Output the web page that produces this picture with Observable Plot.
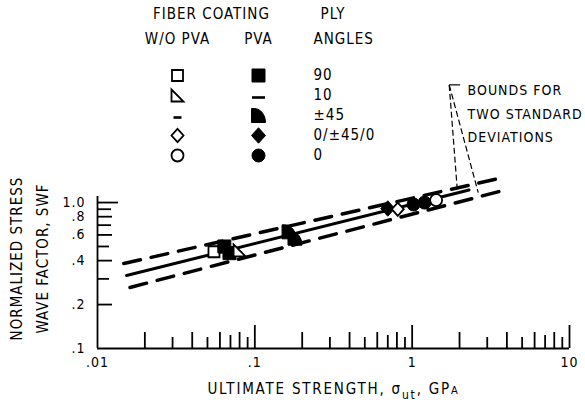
<!DOCTYPE html>
<html>
<head>
<meta charset="utf-8">
<script src="https://cdn.jsdelivr.net/npm/d3@7"></script>
<script src="https://cdn.jsdelivr.net/npm/@observablehq/plot@0.6"></script>
<style>
  html, body { margin: 0; padding: 0; background: #fff; }
  #chart { position: relative; width: 585px; height: 408px; }
  #chart svg { position: absolute; left: 0; top: 0; }
</style>
</head>
<body>
<div id="chart"></div>
<script>
// ---- Categories ----
const plyAngles = ["90", "10", "±45", "0/±45/0", "0"];
const coatings = ["W/O PVA", "PVA"];

// ---- Specimen results: ultimate strength (GPa) vs normalized SWF ----
const pointSigma   = [0.055, 0.064, 0.069, 0.080, 0.165, 0.18, 0.81, 0.70, 1.02, 1.2, 1.42];
const pointSWF     = [0.46, 0.50, 0.45, 0.47, 0.63, 0.57, 0.90, 0.91, 0.97, 1.0, 1.04];
const pointAngle   = ["90", "90", "90", "10", "±45", "±45", "0/±45/0", "0/±45/0", "0", "0", "0"];
const pointCoating = ["W/O PVA", "PVA", "PVA", "W/O PVA", "PVA", "PVA", "W/O PVA", "PVA", "PVA", "PVA", "W/O PVA"];

// ---- Regression line and two-standard-deviation bounds (end points) ----
const fitSigma   = [0.0153, 2.3];
const fitSWF     = [0.316, 1.22];
const upperSigma = [0.0147, 3.74];
const upperSWF   = [0.382, 1.48];
const lowerSigma = [0.0161, 3.8];
const lowerSWF   = [0.262, 1.21];

// ---- Callout for the bounds ----
const noteLines = ["BOUNDS FOR", "TWO STANDARD", "DEVIATIONS"];
const noteSigma = 2.25, noteSWF = 6.4;
const leaderFromSigma = 1.72, leaderFromSWF = 6.4;
const leaderToSigma = [1.93, 2.63];
const leaderToSWF   = [1.27, 1.17];
const stubToSigma = 2.02;

// ---- Axes ----
const xTickValues = [0.01, 0.1, 1, 10];
const xTickLabels = [".01", ".1", "1", "10"];
const yTickValues = [0.1, 0.2, 0.4, 0.6, 0.8, 1.0];
const yTickLabels = [".1", ".2", ".4", ".6", ".8", "1.0"];
const xTitle = "ULTIMATE STRENGTH, σut, GPA";
const yTitle1 = "NORMALIZED STRESS";
const yTitle2 = "WAVE FACTOR, SWF";

// ---- Custom marker shapes (size = π r²) ----
const half = s => Math.sqrt(s / Math.PI);
const shapes = {
  square: {draw(c, s) { const h = half(s); c.moveTo(-h, -h); c.lineTo(h, -h); c.lineTo(h, h); c.lineTo(-h, h); c.closePath(); }},
  triangle: {draw(c, s) { const h = half(s); c.moveTo(-h, -h); c.lineTo(-h, h); c.lineTo(h, h); c.closePath(); }},
  dash: {draw(c, s) { const h = half(s); c.moveTo(-h, 0); c.lineTo(h, 0); }},
  quarter: {draw(c, s) {
    const h = half(s);
    c.moveTo(-h, h); c.lineTo(-h, -h); c.lineTo(-0.6 * h, -h);
    c.bezierCurveTo(0.284 * h, -h, h, -0.105 * h, h, h); c.closePath();
  }},
  diamond: {draw(c, s) { const h = half(s); c.moveTo(0, -1.1 * h); c.lineTo(h, 0); c.lineTo(0, 1.1 * h); c.lineTo(-h, 0); c.closePath(); }},
  circle: {draw(c, s) { const h = half(s); c.moveTo(h, 0); c.arc(0, 0, h, 0, 2 * Math.PI); }}
};

function markerStyle(angle, coating) {
  const open = coating === "W/O PVA";
  const openStyle = {fill: "white", stroke: "black", strokeWidth: 1.8};
  const solid = {fill: "black", stroke: "black", strokeWidth: 1};
  const line = {fill: "none", stroke: "black", strokeWidth: 2.6, dy: 2};
  switch (angle) {
    case "90": return open ? {symbol: shapes.square, r: 5.5, ...openStyle} : {symbol: shapes.square, r: 6.5, ...solid};
    case "10": return open ? {symbol: shapes.triangle, r: 6, ...openStyle} : {symbol: shapes.dash, r: 6.5, ...line};
    case "±45": return open ? {symbol: shapes.dash, r: 4, ...line} : {symbol: shapes.quarter, r: 7, ...solid};
    case "0/±45/0": return open ? {symbol: shapes.diamond, r: 6, ...openStyle} : {symbol: shapes.diamond, r: 7, ...solid};
    default: return open ? {symbol: shapes.circle, r: 6, ...openStyle} : {symbol: shapes.circle, r: 6.5, ...solid};
  }
}

// Open squares first, then solid markers, then the remaining open markers
const drawOrder = [
  ["90", "W/O PVA"],
  ...plyAngles.map(a => [a, "PVA"]),
  ...plyAngles.filter(a => a !== "90").map(a => [a, "W/O PVA"])
];

function markerMarks(data, xKey, yKey) {
  return drawOrder.map(([a, c]) =>
    Plot.dot(data.filter(d => d.angle === a && d.coating === c), {x: xKey, y: yKey, ...markerStyle(a, c)})
  );
}

const points = pointSigma.map((s, i) => ({sigma: s, swf: pointSWF[i], angle: pointAngle[i], coating: pointCoating[i]}));
const lineData = (xs, ys) => xs.map((x, i) => ({sigma: x, swf: ys[i]}));

const fontStyle = {
  fontFamily: '"DejaVu Sans Condensed", "DejaVu Sans", sans-serif',
  fontSize: "15px",
  letterSpacing: "1px",
  background: "transparent",
  color: "black",
  overflow: "visible"
};

// ---- Main chart frame ----
const W = 585, H = 408;
const mL = 97, mR = 16, mT = 196, mB = 60;
const frameW = W - mL - mR, frameH = H - mT - mB;
const xDomain = [0.01, 10], yDomain = [0.1, 1.1];

// pixel length of a tick expressed as a factor along each log axis
const xPerPx = Math.log10(xDomain[1] / xDomain[0]) / frameW;
const yPerPx = Math.log10(yDomain[1] / yDomain[0]) / frameH;
const upBy = len => yDomain[0] * 10 ** (len * yPerPx);
const rightBy = len => xDomain[0] * 10 ** (len * xPerPx);

const decades = [0.01, 0.1, 1];
const minorX = mults => decades.flatMap(d => mults.map(m => +(d * m).toPrecision(3)));
const labelOf = (vals, labels) => d => labels[vals.findIndex(v => Math.abs(v - d) < 1e-9)];

const xTickGroups = [
  {values: [0.1, 1, 10], len: 23},
  {values: minorX([2, 4, 6, 8]), len: 16},
  {values: minorX([7]), len: 13},
  {values: minorX([3, 5, 9]), len: 11}
];
const yTickGroups = [
  {values: [1.0], len: 21},
  {values: [0.2, 0.4, 0.6, 0.8], len: 15},
  {values: [0.7, 0.9], len: 14},
  {values: [0.3, 0.5], len: 12}
];

const main = Plot.plot({
  width: W, height: H,
  marginLeft: mL, marginRight: mR, marginTop: mT, marginBottom: mB,
  x: {type: "log", domain: xDomain},
  y: {type: "log", domain: yDomain},
  style: fontStyle,
  marks: [
    Plot.ruleY([yDomain[0]], {stroke: "black", strokeWidth: 1.8}),
    Plot.ruleX([xDomain[0]], {stroke: "black", strokeWidth: 1.8}),
    // inward tick marks
    ...xTickGroups.map(g => Plot.ruleX(g.values, {x: d => d, y1: () => yDomain[0], y2: () => upBy(g.len), stroke: "black", strokeWidth: 1.8})),
    ...yTickGroups.map(g => Plot.ruleY(g.values, {y: d => d, x1: () => xDomain[0], x2: () => rightBy(g.len), stroke: "black", strokeWidth: 1.8})),
    Plot.axisX({ticks: xTickValues, tickSize: 0, tickPadding: 9, tickFormat: labelOf(xTickValues, xTickLabels), label: null, fontSize: 14}),
    Plot.axisY({ticks: yTickValues, tickSize: 0, tickPadding: 12, tickFormat: labelOf(yTickValues, yTickLabels), label: null, fontSize: 14}),
    Plot.text([yTitle1], {text: d => d, frameAnchor: "left", textAnchor: "middle", lineAnchor: "middle", rotate: -90, dx: -80, dy: -14}),
    Plot.text([yTitle2], {text: d => d, frameAnchor: "left", textAnchor: "middle", lineAnchor: "middle", rotate: -90, dx: -54, dy: -14}),
    Plot.text([xTitle], {text: d => d, frameAnchor: "bottom", textAnchor: "middle", lineAnchor: "middle", dy: 41}),
    // regression line and bounds
    Plot.line(lineData(fitSigma, fitSWF), {x: "sigma", y: "swf", stroke: "black", strokeWidth: 3}),
    Plot.line(lineData(upperSigma, upperSWF), {x: "sigma", y: "swf", stroke: "black", strokeWidth: 3.5, strokeDasharray: "17,11", strokeLinecap: "round"}),
    Plot.line(lineData(lowerSigma, lowerSWF), {x: "sigma", y: "swf", stroke: "black", strokeWidth: 3.5, strokeDasharray: "17,11", strokeLinecap: "round"}),
    // callout
    Plot.link(leaderToSigma.map((s, i) => ({x2: s, y2: leaderToSWF[i]})), {
      x1: () => leaderFromSigma, y1: () => leaderFromSWF, x2: "x2", y2: "y2",
      stroke: "black", strokeWidth: 1.2, strokeDasharray: "6,3"
    }),
    Plot.link([{x2: stubToSigma}], {x1: () => leaderFromSigma, y1: () => leaderFromSWF, x2: "x2", y2: () => leaderFromSWF, stroke: "black", strokeWidth: 1.2}),
    Plot.text([noteLines.join("\n")], {text: d => d, x: () => noteSigma, y: () => noteSWF, textAnchor: "start", lineAnchor: "top", lineHeight: 1.7, dy: -7, fontSize: 14}),
    ...markerMarks(points, "sigma", "swf")
  ]
});

// subscript and small capital in the strength title
d3.select(main).selectAll("text").filter(function () { return this.textContent === xTitle; }).each(function () {
  const t = d3.select(this).style("letter-spacing", "1.8px");
  t.text(null);
  t.append("tspan").text("ULTIMATE STRENGTH, ");
  t.append("tspan").text("σ");
  t.append("tspan").attr("font-size", "12px").attr("dy", 5).text("ut");
  t.append("tspan").attr("dy", -5).text(", GP");
  t.append("tspan").attr("font-size", "11px").text("A");
});

// ---- Symbol key ----
const legendEntries = plyAngles.flatMap(a => coatings.map(c => ({angle: a, coating: c})));
const key = Plot.plot({
  width: W, height: 170, margin: 0,
  x: {type: "point", domain: coatings, range: [177, 258], padding: 0, axis: null},
  y: {type: "point", domain: plyAngles, range: [75, 155], padding: 0, axis: null},
  style: fontStyle,
  marks: [
    ...markerMarks(legendEntries, "coating", "angle"),
    Plot.text(plyAngles, {x: () => "PVA", y: d => d, text: d => d, dx: 55, textAnchor: "start"}),
    Plot.text(["FIBER COATING"], {x: () => "W/O PVA", y: () => "90", text: d => d, dx: 34, dy: -61}),
    Plot.text(coatings, {x: d => d, y: () => "90", text: d => d, dy: -36}),
    Plot.text(["PLY"], {x: () => "PVA", y: () => "90", text: d => d, dx: 62, dy: -61, textAnchor: "start"}),
    Plot.text(["ANGLES"], {x: () => "PVA", y: () => "90", text: d => d, dx: 55, dy: -36, textAnchor: "start"})
  ]
});

const holder = document.getElementById("chart");
holder.appendChild(main);
holder.appendChild(key);
</script>
</body>
</html>
